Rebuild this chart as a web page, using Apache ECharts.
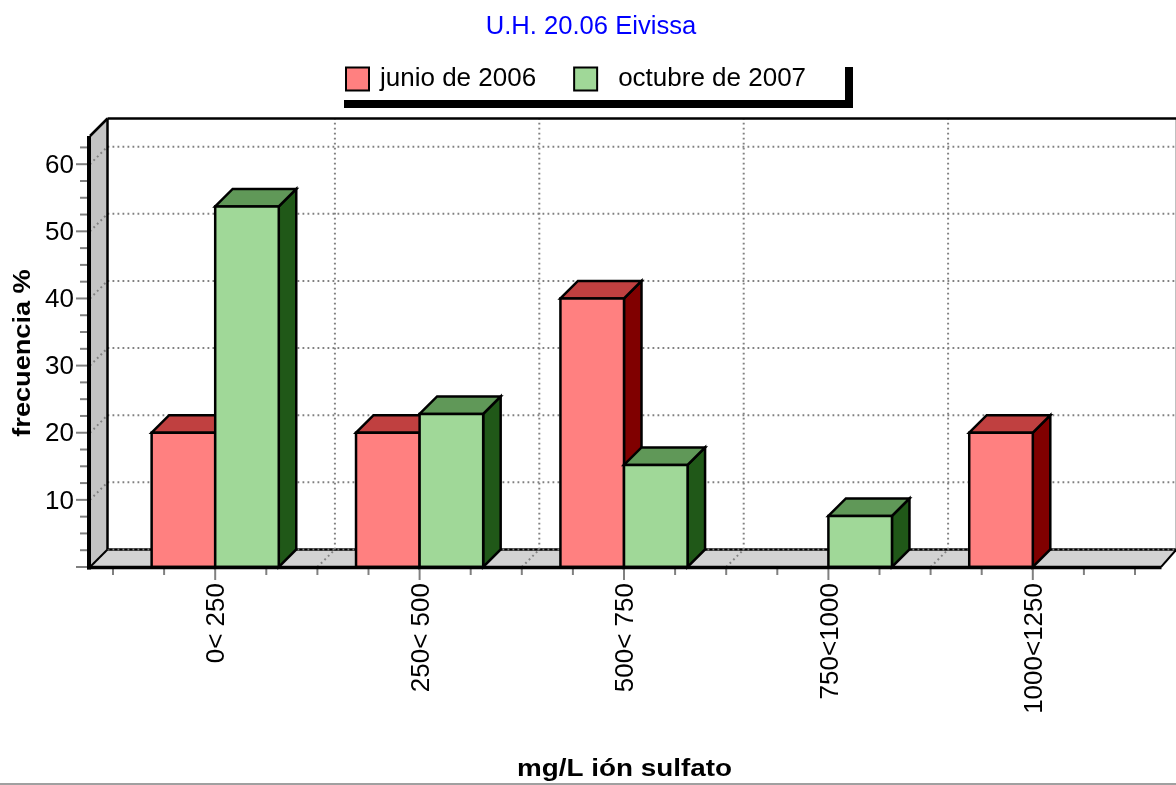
<!DOCTYPE html>
<html>
<head>
<meta charset="utf-8">
<style>html,body{margin:0;padding:0;background:#fff}#c{width:1176px;height:785px}</style>
<script src="https://cdn.jsdelivr.net/npm/echarts@6/dist/echarts.min.js"></script>
</head>
<body>
<div id="c"></div>
<script>
const chartTitle = 'U.H. 20.06 Eivissa';
const xTitle = 'mg/L ión sulfato';
const yTitle = 'frecuencia %';
const categories = ['0< 250', '250< 500', '500< 750', '750<1000', '1000<1250'];
const seriesNames = ['junio de 2006', 'octubre de 2007'];
const junio = [20, 20, 40, 0, 20];
const octubre = [53.7, 22.8, 15.2, 7.6, 0];
const yMajor = [0, 10, 20, 30, 40, 50, 60];
const yLabelled = [10, 20, 30, 40, 50, 60];
const yMinor = [2.5, 5, 7.5, 12.5, 15, 17.5, 22.5, 25, 27.5, 32.5, 35, 37.5, 42.5, 45, 47.5, 52.5, 55, 57.5, 62.5];
const xMajor = [0, 1, 2, 3, 4];
const xMinor = [-0.5, -0.25, 0.25, 0.5, 0.75, 1.25, 1.5, 1.75, 2.25, 2.5, 2.75, 3.25, 3.5, 3.75, 4.25, 4.5];
const xBounds = [0.5, 1.5, 2.5, 3.5];
const yMax = 64.2;

const D = 17.5, BLACK = '#000', GRAY = '#808080', FONT = '"Liberation Sans", Arial, sans-serif';
const GL = 113, GW = 1022, GT = 136, GH = 431;
const FL = 90, FR = 1159;   // frame extents of the front plane
const dot = { stroke: GRAY, lineWidth: 2, lineDash: [1.8, 3.2] };

function line(x1, y1, x2, y2, style) {
  return { type: 'line', silent: true, shape: { x1, y1, x2, y2 }, style: Object.assign({ fill: null }, style) };
}
function poly(points, fill, stroke, w) {
  return { type: 'polygon', silent: true, shape: { points }, style: { fill, stroke: stroke || null, lineWidth: w || 0, lineJoin: 'miter' } };
}

function renderBack(params, api) {
  const y0 = api.coord([0, 0])[1], yT = api.coord([0, yMax])[1];
  const cx = i => api.coord([0, 0])[0] + i * api.size([1, 0])[0];
  const c = [];
  c.push(poly([[FL, yT], [FL + D, yT - D], [FL + D, y0 - D], [FL, y0]], '#C4C4C4'));
  c.push(poly([[FL, y0], [FL + D, y0 - D], [FR + D, y0 - D], [FR, y0]], '#D2D2D2'));
  c.push(line(FL + D, y0 - D, FR + D, y0 - D, { stroke: BLACK, lineWidth: 2.5 }));
  yMajor.forEach(v => {
    const y = api.coord([0, v])[1];
    c.push(line(FL, y, FL + D, y - D, dot));
    c.push(line(FL + D, y - D, FR + D, y - D, dot));
  });
  xBounds.forEach(i => {
    const x = cx(i);
    c.push(line(x, y0, x + D, y0 - D, dot));
    c.push(line(x + D, y0 - D, x + D, yT - D, dot));
  });
  c.push(line(FR + D - 0.5, yT - D, FR + D - 0.5, y0 - D, { stroke: GRAY, lineWidth: 1 }));
  c.push(line(FL + D, yT - D, FR + D, yT - D, { stroke: BLACK, lineWidth: 2.5 }));
  c.push(line(FL + D, yT - D, FL + D, y0 - D, { stroke: BLACK, lineWidth: 2.5 }));
  c.push(line(FL, yT, FL + D, yT - D, { stroke: BLACK, lineWidth: 2.5 }));
  c.push(line(FL, y0, FL + D, y0 - D, { stroke: BLACK, lineWidth: 2 }));
  c.push(line(FR + 2, y0, FR + D, y0 - D, { stroke: BLACK, lineWidth: 2 }));
  return { type: 'group', children: c };
}

function renderFront(params, api) {
  const y0 = api.coord([0, 0])[1], yT = api.coord([0, yMax])[1];
  const cx = i => api.coord([0, 0])[0] + i * api.size([1, 0])[0];
  const c = [];
  const tick = { stroke: GRAY, lineWidth: 2 };
  yMajor.forEach(v => { const y = api.coord([0, v])[1]; c.push(line(76, y, 87, y, tick)); });
  yMinor.forEach(v => { const y = api.coord([0, v])[1]; c.push(line(80, y, 87, y, tick)); });
  xMajor.forEach(i => c.push(line(cx(i), y0 + 2, cx(i), y0 + 13, tick)));
  xMinor.forEach(i => c.push(line(cx(i), y0 + 2, cx(i), y0 + 8, tick)));
  c.push(line(FL - 1, yT, FL - 1, y0 + 2.5, { stroke: BLACK, lineWidth: 4 }));
  c.push(line(FL - 3, y0 + 0.5, FR + 2.5, y0 + 0.5, { stroke: BLACK, lineWidth: 3.5 }));
  return { type: 'group', children: c };
}

function barRenderer(front, top, side, offset) {
  return function (params, api) {
    const v = api.value(1);
    if (!v) return { type: 'group', children: [] };
    const cat = api.coord([api.value(0), 0]);
    const cw = api.size([1, 0])[0];
    const bw = cw * 0.311;
    const x0 = cat[0] + offset * bw, x1 = x0 + bw;
    const y0 = cat[1], y1 = api.coord([api.value(0), v])[1];
    return { type: 'group', children: [
      poly([[x1, y1], [x1 + D, y1 - D], [x1 + D, y0 - D], [x1, y0]], side, BLACK, 2.5),
      poly([[x0, y1], [x0 + D, y1 - D], [x1 + D, y1 - D], [x1, y1]], top, BLACK, 2.5),
      poly([[x0, y1], [x1, y1], [x1, y0], [x0, y0]], front, BLACK, 2.5)
    ] };
  };
}

const indexed = arr => arr.map((v, i) => [i, v]);
const chart = echarts.init(document.getElementById('c'), null, { renderer: 'canvas' });
chart.setOption({
  animation: false,
  backgroundColor: '#fff',
  textStyle: { fontFamily: FONT },
  title: {
    text: chartTitle, left: 591, top: 14, textAlign: 'center', padding: 0,
    textStyle: { color: '#0000FF', fontSize: 25.6, fontWeight: 'normal', fontFamily: FONT }
  },
  legend: {
    data: [
      { name: seriesNames[0] },
      { name: seriesNames[1], textStyle: { padding: [0, 0, 0, 16] } }
    ],
    left: 345, top: 66, padding: 0, itemWidth: 23, itemHeight: 23, itemGap: 37,
    icon: 'rect', selectedMode: false,
    textStyle: { fontSize: 26, color: '#000', fontFamily: FONT, padding: [0, 0, 0, 6] }
  },
  grid: { left: GL, top: GT, width: GW, height: GH },
  xAxis: {
    type: 'category', data: categories,
    axisLine: { show: false }, axisTick: { show: false }, splitLine: { show: false },
    axisLabel: { rotate: 90, margin: 16, fontSize: 26, color: '#000', fontFamily: FONT, interval: 0, verticalAlign: 'top', lineHeight: 4 }
  },
  yAxis: {
    type: 'value', min: 0, max: yMax, interval: 10,
    axisLine: { show: false }, axisTick: { show: false }, splitLine: { show: false },
    axisLabel: { customValues: yLabelled, margin: 39, fontSize: 26, color: '#000', fontFamily: FONT, verticalAlign: 'top', lineHeight: 3 }
  },
  series: [
    { type: 'custom', name: 'fondo', z: 1, silent: true, data: [[0, 0]], renderItem: renderBack },
    { type: 'custom', name: seriesNames[0], z: 2, itemStyle: { color: '#FF8080', borderColor: BLACK, borderWidth: 2 },
      encode: { x: 0, y: 1 }, data: indexed(junio), renderItem: barRenderer('#FF8080', '#C04040', '#800000', -1) },
    { type: 'custom', name: seriesNames[1], z: 3, itemStyle: { color: '#A0D898', borderColor: BLACK, borderWidth: 2 },
      encode: { x: 0, y: 1 }, data: indexed(octubre), renderItem: barRenderer('#A0D898', '#609858', '#205818', 0) },
    { type: 'custom', name: 'ejes', z: 4, silent: true, data: [[0, 0]], renderItem: renderFront }
  ],
  graphic: [
    { type: 'rect', silent: true, shape: { x: 344, y: 100, width: 509, height: 8 }, style: { fill: BLACK } },
    { type: 'rect', silent: true, shape: { x: 845, y: 67, width: 8, height: 41 }, style: { fill: BLACK } },
    { type: 'rect', silent: true, shape: { x: 0, y: 783, width: 1176, height: 2 }, style: { fill: '#A0A0A0' } },
    { type: 'text', silent: true, x: 624.5, y: 770, scaleX: 1.21, style: { text: xTitle, fill: BLACK, font: 'bold 23px ' + FONT, align: 'center', verticalAlign: 'middle' } },
    { type: 'text', silent: true, x: 24, y: 353, rotation: Math.PI / 2, scaleX: 1.18, style: { text: yTitle, fill: BLACK, font: 'bold 23px ' + FONT, align: 'center', verticalAlign: 'middle' } }
  ]
});
</script>
</body>
</html>
